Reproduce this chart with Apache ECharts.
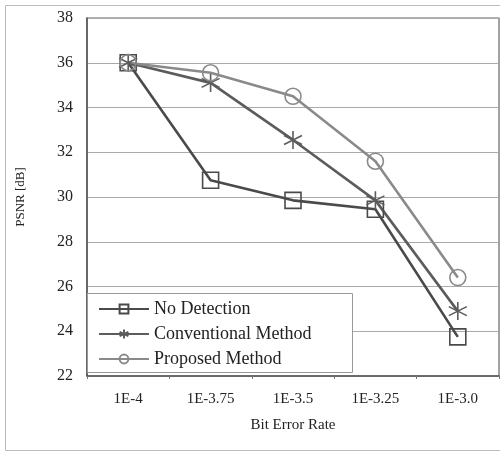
<!DOCTYPE html>
<html>
<head>
<meta charset="utf-8">
<script src="https://cdn.jsdelivr.net/npm/echarts@6/dist/echarts.min.js"></script>
<style>
html, body { margin: 0; padding: 0; background: #fff; }
#chart { width: 500px; height: 452px; }
</style>
</head>
<body>
<div id="chart"></div>
<script>
// 数据 ===============================================================
var categories = ['1E-4', '1E-3.75', '1E-3.5', '1E-3.25', '1E-3.0'];
var noDetection = [36.0, 30.75, 29.85, 29.45, 23.75];
var conventional = [36.0, 35.1, 32.55, 29.85, 24.9];
var proposed = [36.0, 35.55, 34.5, 31.6, 26.4];
var seriesNames = ['No Detection', 'Conventional Method', 'Proposed Method'];

// 星号标记 (X + 竖线)
var starPath = 'path://M5 0 L5 10 M0.67 2.5 L9.33 7.5 M9.33 2.5 L0.67 7.5';
var serif = '"Liberation Serif", "DejaVu Serif", serif';

function makeSeries(name, data, color, symbol, size) {
    return {
        name: name,
        type: 'line',
        data: data,
        symbol: symbol,
        symbolSize: size,
        lineStyle: { color: color, width: 2.6 },
        itemStyle: { color: 'rgba(0,0,0,0)', borderColor: color, borderWidth: 1.6 },
        emphasis: { disabled: true },
        z: 5
    };
}

var chart = echarts.init(document.getElementById('chart'));
var option = {
    backgroundColor: '#fff',
    animation: false,
    textStyle: { fontFamily: serif },
    grid: {
        left: 87, right: 1, top: 18, bottom: 76,
        show: true,
        backgroundColor: 'rgba(0,0,0,0)',
        borderColor: '#666',
        borderWidth: 1.2
    },
    graphic: [
        {   // 外框
            type: 'rect',
            shape: { x: 5.5, y: 5.5, width: 495, height: 445 },
            style: { fill: 'none', stroke: '#bbb', lineWidth: 1 },
            z: 0
        },
        {   // 图例框
            type: 'rect',
            shape: { x: 87.5, y: 293.5, width: 265, height: 79 },
            style: { fill: '#fff', stroke: '#999', lineWidth: 1 },
            z: 3
        }
    ],
    legend: {
        data: seriesNames,
        orient: 'vertical',
        left: 88,
        top: 297,
        padding: [3, 10, 3, 10],
        itemWidth: 50,
        itemHeight: 11,
        itemGap: 7,
        textStyle: { fontFamily: serif, fontSize: 18, color: '#222' },
        z: 4
    },
    xAxis: {
        type: 'category',
        data: categories,
        boundaryGap: true,
        name: 'Bit Error Rate',
        nameLocation: 'middle',
        nameGap: 42,
        nameTextStyle: { fontFamily: serif, fontSize: 15, color: '#222' },
        axisLine: { lineStyle: { color: '#555', width: 1.5 } },
        axisTick: { show: true, length: 3, inside: false, lineStyle: { color: '#777' } },
        axisLabel: { fontFamily: serif, fontSize: 15, color: '#222', margin: 16 },
        splitLine: { show: false }
    },
    yAxis: {
        type: 'value',
        min: 22,
        max: 38,
        interval: 2,
        name: 'PSNR [dB]',
        nameLocation: 'middle',
        nameGap: 60,
        nameTextStyle: { fontFamily: serif, fontSize: 13, color: '#222' },
        axisLine: { show: true, lineStyle: { color: '#555', width: 1.5 } },
        axisTick: { show: false },
        axisLabel: { fontFamily: serif, fontSize: 16, color: '#222', margin: 14 },
        splitLine: { show: true, lineStyle: { color: '#aaa', width: 1 } }
    },
    series: [
        makeSeries(seriesNames[0], noDetection, '#4a4a4a', 'rect', 16),
        makeSeries(seriesNames[1], conventional, '#5c5c5c', starPath, 18),
        makeSeries(seriesNames[2], proposed, '#8a8a8a', 'circle', 16)
    ]
};
chart.setOption(option);
</script>
</body>
</html>
